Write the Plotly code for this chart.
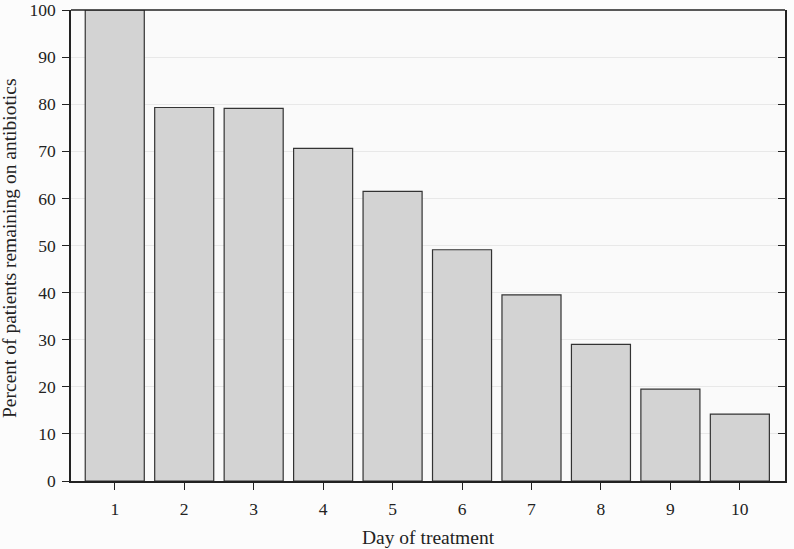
import plotly.graph_objects as go

days = [1, 2, 3, 4, 5, 6, 7, 8, 9, 10]
percent = [100, 79.3, 79.1, 70.6, 61.5, 49.1, 39.5, 29.0, 19.5, 14.2]
yticks = [0, 10, 20, 30, 40, 50, 60, 70, 80, 90, 100]
ytitle = "Percent of patients remaining on antibiotics"
xtitle = "Day of treatment"

font = "Liberation Serif"
fig = go.Figure()
fig.add_trace(go.Bar(x=days, y=percent, width=0.85,
                     marker=dict(color="#d3d3d3", line=dict(color="#333333", width=1.2)),
                     showlegend=False, hoverinfo="x+y"))
fig.add_trace(go.Scatter(x=[days[0]], y=[0], yaxis="y2", mode="markers",
                         marker=dict(opacity=0), showlegend=False, hoverinfo="skip"))

fig.update_layout(
    width=794, height=549,
    margin=dict(l=71, r=9, t=10, b=68, autoexpand=False),
    paper_bgcolor="#fcfcfc", plot_bgcolor="#fafafa",
    font=dict(family=font, size=17, color="#222222"),
    bargap=0.15,
    xaxis=dict(range=[0.37, 10.65], tickvals=days, ticks="outside", ticklen=7,
               tickcolor="#222", showline=True, linecolor="#222", linewidth=2,
               showgrid=False, zeroline=False, mirror=False, automargin=False,
               ticklabelstandoff=4, tickfont=dict(size=17.5)),
    yaxis=dict(range=[0, 100], tickvals=yticks, ticks="outside", ticklen=7,
               tickcolor="#222", showline=True, linecolor="#222", linewidth=1.5,
               showgrid=True, gridcolor="#e8e8e8", gridwidth=1, zeroline=False,
               automargin=False, ticklabeloverflow="allow", ticklabelstandoff=3,
               tickfont=dict(size=17.5)),
    yaxis2=dict(range=[0, 100], overlaying="y", side="right", tickvals=yticks,
                ticks="inside", ticklen=7, tickcolor="#222", showticklabels=False,
                showline=True, linecolor="#222", linewidth=1.5, showgrid=False,
                zeroline=False, automargin=False),
    shapes=[dict(type="line", xref="paper", yref="paper", x0=0, x1=1, y0=1, y1=1,
                 line=dict(color="#222", width=1.5))],
    annotations=[
        dict(text=ytitle, textangle=-90, xref="paper", yref="paper",
             x=-0.0854, y=0.4947, xanchor="center", yanchor="middle",
             showarrow=False, font=dict(size=19.5, family=font, color="#222")),
        dict(text=xtitle, xref="paper", yref="paper",
             x=0.5, y=-0.121, xanchor="center", yanchor="middle",
             showarrow=False, font=dict(size=19.5, family=font, color="#222")),
    ],
)
fig.write_html("out.html", config={"displayModeBar": False},
               post_script="document.body.style.margin='0';document.body.style.background='#fcfcfc';")
